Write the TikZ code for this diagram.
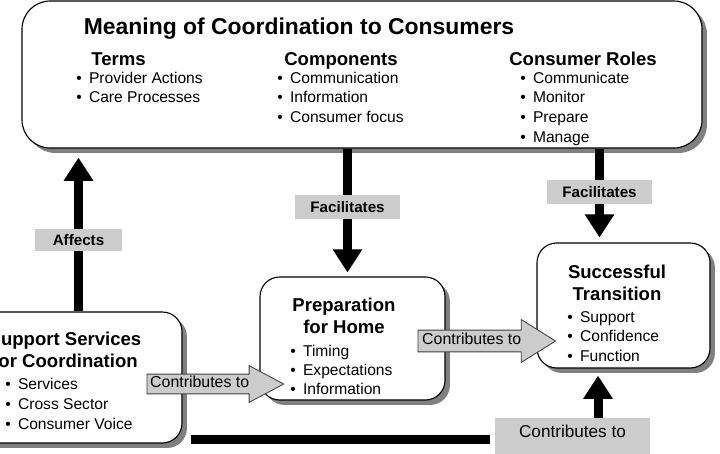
\documentclass[tikz,border=0pt]{standalone}
\usepackage{fontspec}
\setmainfont{Liberation Sans}
\usepackage{tikz}
\usetikzlibrary{arrows.meta, calc, fit, shadows, shapes.arrows}

\newcommand{\itemdot}{•\hspace{5.2pt}}

\begin{document}
\begin{tikzpicture}[x=0.025cm, y=-0.025cm,
  box/.style={draw, line width=0.8pt, fill=white, rounded corners=14pt, inner sep=0pt,
    drop shadow={shadow xshift=3.5pt, shadow yshift=-3.5pt, fill=gray, opacity=1}},
  big/.style={font=\bfseries\fontsize{16.3}{18}\selectfont, anchor=base, inner sep=0pt},
  head/.style={font=\bfseries\fontsize{13.2}{15}\selectfont, anchor=base, inner sep=0pt},
  item/.style={font=\fontsize{11.1}{13}\selectfont, anchor=base west, inner sep=0pt},
  tag/.style={fill=gray!40, font=\bfseries\fontsize{10.8}{12}\selectfont, inner sep=0pt,
    minimum width=74.4pt, minimum height=17pt},
  blkline/.style={line width=6.4pt},
  blk/.style={line width=6.4pt, -{Triangle[width=20pt, length=16.5pt]}},
  contrib/.style={single arrow, draw=black!75, line width=0.6pt, fill=gray!40,
    font=\fontsize{11.3}{13}\selectfont, inner xsep=2pt, inner ysep=1.5pt,
    text height=8pt, text depth=2.5pt, single arrow head extend=6pt,
    single arrow tip angle=56, minimum height=96.5pt, anchor=tail}
]
\useasboundingbox (0,0) rectangle (720,453);
\clip (0,0) rectangle (720,453);

% boxes
\node[box, rounded corners=20pt, fit={(22,1) (702,148)}] (meaning) {};
\node[box, fit={(-52,312) (182,443)}] (support) {};
\node[box, fit={(260,277) (445,400)}] (prep) {};
\node[box, fit={(537,243) (710,368)}] (success) {};

% top box text
\path (299,35) node[big] (title) {Meaning of Coordination to Consumers};
\path (118.5,65) node[head] (terms) {Terms};
\path (341,65) node[head] (comps) {Components};
\path (583,65) node[head] (roles) {Consumer Roles};
\foreach \t [count=\i] in {Provider Actions, Care Processes}
  \path (76,{83+19.8*(\i-1)}) node[item] (terms\i) {\itemdot\t};
\foreach \t [count=\i] in {Communication, Information, Consumer focus}
  \path (277,{83+19.8*(\i-1)}) node[item] (comps\i) {\itemdot\t};
\foreach \t [count=\i] in {Communicate, Monitor, Prepare, Manage}
  \path (520,{83+19.8*(\i-1)}) node[item] (roles\i) {\itemdot\t};

% support box text
\path (65,345) node[head] (sup1) {Support Services};
\path (65,367) node[head] (sup2) {for Coordination};
\foreach \t [count=\i] in {Services, Cross Sector, Consumer Voice}
  \path (5,{389+20*(\i-1)}) node[item] (sup\i) {\itemdot\t};

% preparation box text
\path (344,311) node[head] (prep1) {Preparation};
\path (344,333) node[head] (prep2) {for Home};
\foreach \t [count=\i] in {Timing, Expectations, Information}
  \path (290,{356+19*(\i-1)}) node[item] (prepitem\i) {\itemdot\t};

% success box text
\path (617,278) node[head] (succ1) {Successful};
\path (617,300) node[head] (succ2) {Transition};
\foreach \t [count=\i] in {Support, Confidence, Function}
  \path (567,{322+19.5*(\i-1)}) node[item] (succitem\i) {\itemdot\t};

% labels
\path (78.5,240) node[tag, minimum width=61.7pt, minimum height=15.6pt] (affects) {Affects};
\path (347.5,207) node[tag] (facil1) {Facilitates};
\path (599.5,192) node[tag] (facil2) {Facilitates};
\path (572.5,437) node[tag, font=\fontsize{12.2}{14}\selectfont, anchor=base,
  minimum width=109.8pt, minimum height=0pt, text height=9pt, text depth=12pt,
  inner ysep=4.2pt] (bottomtag) {Contributes to};

% black arrows
\draw[blkline] (support.north -| affects) -- (affects);
\draw[blk, shorten >=6.4pt] (affects) -- (meaning.south -| affects);
\draw[blkline] (meaning.south -| facil1) -- (facil1);
\draw[blk, shorten >=2.8pt] (facil1) -- (prep.north -| facil1);
\draw[blkline] (meaning.south -| facil2) -- (facil2);
\draw[blk, shorten >=3.5pt] (facil2) -- (success.north -| facil2);
\coordinate (xup) at (598,0);
\draw[blkline, shorten <=5.7pt, shorten >=3.5pt] (bottomtag.west -| support.east) -- (bottomtag.west);
\draw[blk, shorten >=5pt] (bottomtag.north -| xup) -- (success.south -| xup);

% grey arrows
\node[contrib] (toprep) at ($(support.east)+(-36,6.5)$) {Contributes to\kern9pt};
\node[contrib, inner ysep=2.2pt, single arrow head extend=7.5pt, single arrow tip angle=64,
  minimum height=97.8pt] (tosucc) at ($(prep.east)+(-28,2.5)$) {Contributes to\kern9pt};
\end{tikzpicture}
\end{document}
